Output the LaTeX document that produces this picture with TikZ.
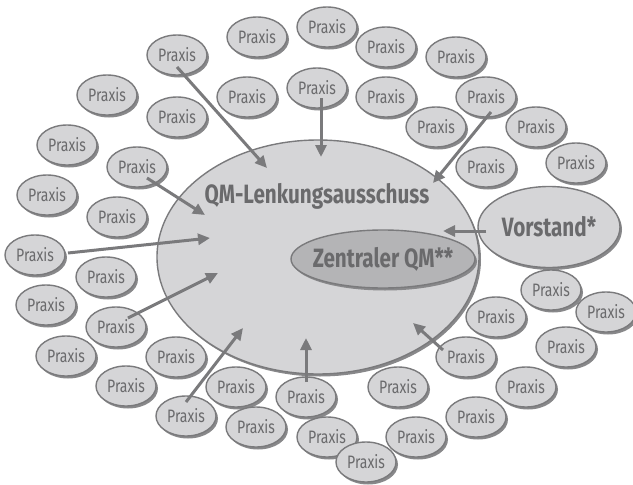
\documentclass[tikz,border=0pt]{standalone}
\usepackage{fontspec}
\newfontfamily\schmal[FakeStretch=0.78]{Fira Sans}
\usetikzlibrary{shapes.geometric,shadows,arrows.meta}
\definecolor{hell}{HTML}{D5D5D7}
\definecolor{mittel}{HTML}{B4B4B6}
\definecolor{rand}{HTML}{7A7A7C}
\definecolor{schatten}{HTML}{88888A}
\definecolor{schrift}{HTML}{6A6A6C}
\tikzset{
  blase/.style={ellipse, draw=rand, fill=hell, line width=1.4pt, inner sep=0pt,
    drop shadow={shadow xshift=2pt, shadow yshift=-2.5pt, fill=schatten, opacity=1}},
  praxis/.style={blase, minimum width=60pt, minimum height=40pt, text=schrift,
    font=\schmal\fontsize{18}{18}\selectfont},
  titel/.style={text=schrift, font=\schmal\bfseries\fontsize{26.5}{26.5}\selectfont},
  pfeil/.style={draw=rand, line width=3pt, -{Triangle[length=12pt,width=11pt]}}
}
\begin{document}
\begin{tikzpicture}[x=1pt, y=-1pt]
  \useasboundingbox (0,0) rectangle (633,485);

  % centre: steering committee
  \node[blase, minimum width=322pt, minimum height=234pt] (lenkung) at (318,257) {};
  \node[titel] (lenkungtext) at (317,196) {QM-Lenkungsausschuss};
  \node[blase, fill=mittel, minimum width=184pt, minimum height=58pt,
        label={[titel]center:Zentraler QM**}] (zentral) at (383,259) {};
  \node[blase, minimum width=142pt, minimum height=81pt, titel] (vorstand) at (549,227) {Vorstand*};

  % practices, top
  \node[praxis] (p1) at (257,37) {Praxis};
  \node[praxis] (p2) at (327,27) {Praxis};
  \node[praxis] (p3) at (386,47) {Praxis};
  \node[praxis] (p4) at (177,55) {Praxis};
  \node[praxis] (p5) at (456,57) {Praxis};
  \node[praxis] (p6) at (107,95) {Praxis};
  \node[praxis] (p7) at (177,117) {Praxis};
  \node[praxis] (p8) at (247,97) {Praxis};
  \node[praxis] (p9) at (317,88) {Praxis};
  \node[praxis] (p10) at (386,97) {Praxis};
  \node[praxis] (p11) at (486,97) {Praxis};
  \node[praxis] (p12) at (436,127) {Praxis};
  \node[praxis] (p13) at (536,127) {Praxis};
  \node[praxis] (p14) at (67,145) {Praxis};
  \node[praxis] (p15) at (137,167) {Praxis};
  \node[praxis] (p16) at (486,167) {Praxis};
  \node[praxis] (p17) at (576,163) {Praxis};

  % practices, left
  \node[praxis] (p18) at (47,195) {Praxis};
  \node[praxis] (p19) at (117,217) {Praxis};
  \node[praxis] (p20) at (35,255) {Praxis};
  \node[praxis] (p21) at (106,277) {Praxis};
  \node[praxis] (p22) at (46,305) {Praxis};
  \node[praxis] (p23) at (116,327) {Praxis};
  \node[praxis] (p24) at (66,356) {Praxis};

  % practices, bottom
  \node[praxis] (p25) at (176,357) {Praxis};
  \node[praxis] (p26) at (126,386) {Praxis};
  \node[praxis] (p27) at (236,387) {Praxis};
  \node[praxis] (p28) at (186,416) {Praxis};
  \node[praxis] (p29) at (256,427) {Praxis};
  \node[praxis] (p30) at (306,397) {Praxis};
  \node[praxis] (p31) at (327,437) {Praxis};
  \node[praxis] (p32) at (366,462) {Praxis};
  \node[praxis] (p33) at (398,387) {Praxis};
  \node[praxis] (p34) at (416,437) {Praxis};
  \node[praxis] (p35) at (476,417) {Praxis};
  \node[praxis] (p36) at (526,387) {Praxis};
  \node[praxis] (p37) at (466,357) {Praxis};

  % practices, right
  \node[praxis] (p38) at (496,317) {Praxis};
  \node[praxis] (p39) at (551,290) {Praxis};
  \node[praxis] (p40) at (606,312) {Praxis};
  \node[praxis] (p41) at (566,347) {Praxis};

  % arrow tips inside the committee
  \coordinate (ziel1) at (267,168);
  \coordinate (ziel2) at (205,215);
  \coordinate (ziel3) at (321,157);
  \coordinate (ziel4) at (433,183);
  \coordinate (ziel5) at (443,231);
  \coordinate (ziel6) at (210,238);
  \coordinate (ziel7) at (218,273);
  \coordinate (ziel8) at (243,328);
  \coordinate (ziel9) at (306,338);
  \coordinate (ziel10) at (413,323);

  \draw[pfeil] ([shift={(0,12)}]p4.center) -- (ziel1);
  \draw[pfeil] ([shift={(10,11)}]p15.center) -- (ziel2);
  \draw[pfeil] ([shift={(4,10)}]p9.center) -- (ziel3);
  \draw[pfeil] ([shift={(5,15)}]p11.center) -- (ziel4);
  \draw[pfeil] ([shift={(9,4)}]vorstand.west) -- (ziel5);
  \draw[pfeil] ([shift={(33,-2)}]p20.center) -- (ziel6);
  \draw[pfeil] ([shift={(12,-9)}]p23.center) -- (ziel7);
  \draw[pfeil] ([shift={(0,-14)}]p28.center) -- (ziel8);
  \draw[pfeil] ([shift={(0,-15)}]p30.center) -- (ziel9);
  \draw[pfeil] ([shift={(-23,-7)}]p37.center) -- (ziel10);
\end{tikzpicture}
\end{document}
